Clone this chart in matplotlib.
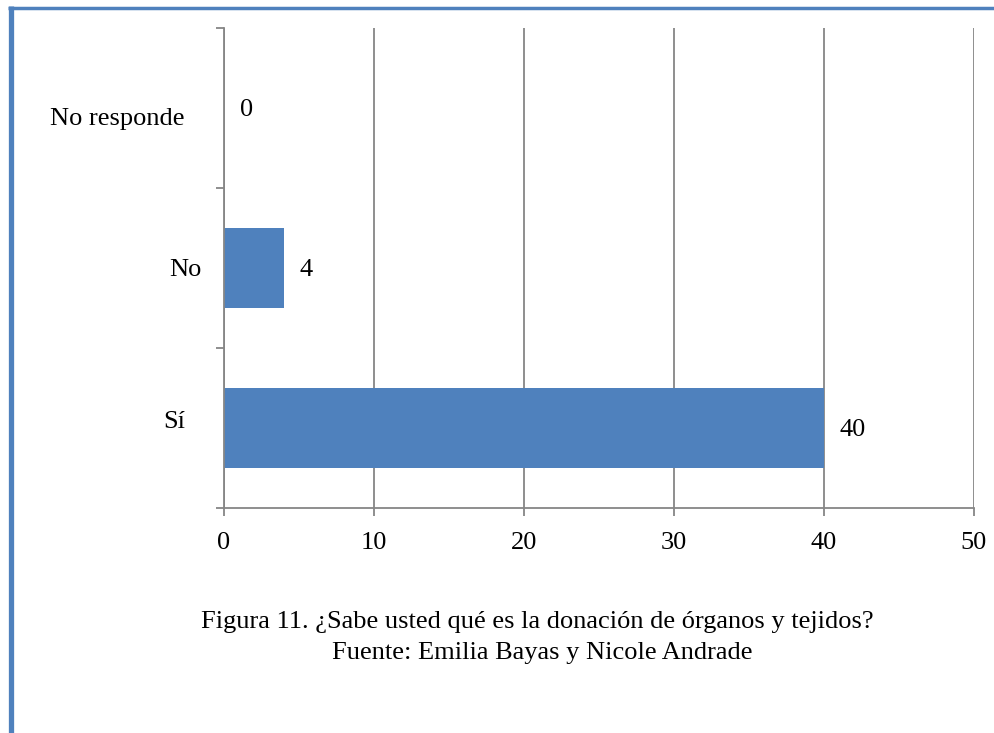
import matplotlib
matplotlib.use('Agg')
import matplotlib.pyplot as plt
from matplotlib.lines import Line2D
from matplotlib.ticker import FixedLocator
from matplotlib.transforms import ScaledTranslation

# Encuesta: ¿Sabe usted qué es la donación de órganos y tejidos?
categorias = ['Sí', 'No', 'No responde']
respuestas = [40, 4, 0]
x_ticks = [0, 10, 20, 30, 40, 50]

AZUL = '#4F81BD'
GRIS = '#868686'

# desplazamiento fino (pixeles) de cada etiqueta de categoria
ajuste_etiquetas = [(-5, 8), (11, 0), (-6, -9)]

plt.rcParams['font.family'] = ['Liberation Serif', 'DejaVu Serif']

fig = plt.figure(figsize=(9.94, 7.33), dpi=100)
ax = fig.add_axes([224 / 994, 1 - 508 / 733, 750 / 994, 480 / 733])

pos = list(range(len(categorias)))
ax.barh(pos, respuestas, height=0.5, color=AZUL, zorder=3)

for y, v in zip(pos, respuestas):
    ax.annotate(str(v), xy=(v, y), xytext=(16, -2), textcoords='offset pixels',
                ha='left', va='center', fontsize=19, color='black')

ax.set_xlim(0, 50)
ax.set_ylim(-0.5, len(categorias) - 0.5)
ax.set_xticks(x_ticks)
ax.set_xticklabels([str(t) for t in x_ticks], fontsize=19)

# marcas mayores entre categorias, etiquetas en las menores
ax.yaxis.set_major_locator(FixedLocator([p - 0.5 for p in pos] + [pos[-1] + 0.5]))
ax.yaxis.set_major_formatter(plt.NullFormatter())
ax.yaxis.set_minor_locator(FixedLocator(pos))
ax.set_yticklabels(categorias, minor=True, fontsize=19)
ax.tick_params(axis='y', which='minor', length=0, pad=24)
ax.tick_params(axis='y', which='major', length=6, width=1.3, color=GRIS, direction='out')
ax.tick_params(axis='x', length=6, width=1.3, color=GRIS, direction='out', pad=11.5)

for lbl, (dx, dy) in zip(ax.get_yticklabels(minor=True), ajuste_etiquetas):
    lbl.set_transform(lbl.get_transform() + ScaledTranslation(dx / 100, dy / 100, fig.dpi_scale_trans))

ax.grid(axis='x', color=GRIS, linewidth=1.3, zorder=0)
for s in ['top', 'right']:
    ax.spines[s].set_visible(False)
for s in ['left', 'bottom']:
    ax.spines[s].set_color(GRIS)
    ax.spines[s].set_linewidth(1.3)
    ax.spines[s].set_zorder(4)

fig.text(537 / 994, 1 - 622 / 733,
         'Figura 11. ¿Sabe usted qué es la donación de órganos y tejidos?',
         ha='center', va='center', fontsize=19)
fig.text(542 / 994, 1 - 653 / 733, 'Fuente: Emilia Bayas y Nicole Andrade',
         ha='center', va='center', fontsize=19)

# marco azul superior e izquierdo
fig.add_artist(Line2D([10.5 / 994, 10.5 / 994], [0, 1 - 6 / 733], color=AZUL,
                      linewidth=3.8, transform=fig.transFigure, solid_capstyle='butt'))
fig.add_artist(Line2D([8 / 994, 1], [1 - 7.5 / 733, 1 - 7.5 / 733], color=AZUL,
                      linewidth=2.5, transform=fig.transFigure, solid_capstyle='butt'))

fig.savefig('out.png', dpi=100)
